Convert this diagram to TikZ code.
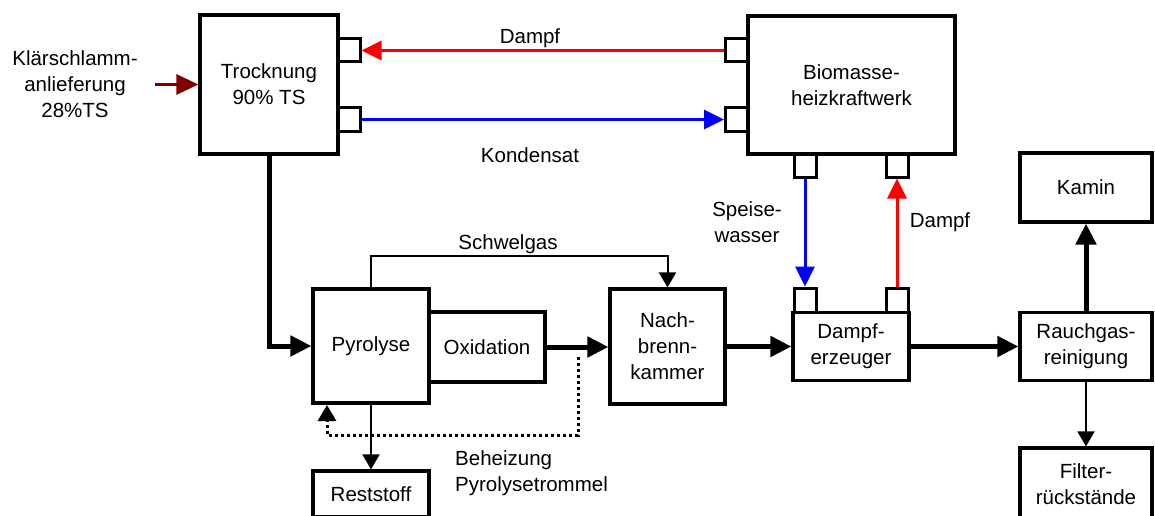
\documentclass[tikz,border=0pt]{standalone}
\usepackage{fontspec}
\setmainfont{Liberation Sans}
\usetikzlibrary{arrows.meta}
\begin{document}
\begin{tikzpicture}[x=1pt,y=-1pt,
  box/.style={draw,line width=3.2pt,rectangle,inner sep=0pt,align=center,font=\fontsize{20.5}{26}\selectfont},
  portbox/.style={draw,line width=3pt,rectangle,minimum width=22pt,minimum height=23pt,inner sep=0pt},
  lbl/.style={align=center,font=\fontsize{20.5}{26}\selectfont,inner sep=0pt},
  mainflow/.style={line width=5pt,-{Triangle[length=21pt,width=20pt]}},
  thinflow/.style={line width=2pt,-{Triangle[length=15pt,width=17pt]}},
  redflow/.style={line width=3pt,red,-{Triangle[length=20pt,width=19pt]}},
  blueflow/.style={line width=3pt,blue,-{Triangle[length=20pt,width=19pt]}},
  inflow/.style={line width=3pt,color={rgb,255:red,128;green,0;blue,0},-{Triangle[length=22pt,width=20pt]}},
  heatflow/.style={line width=3pt,dash pattern=on 3pt off 3pt,-{Triangle[length=16pt,width=18pt]}}
]
\useasboundingbox (0,0) rectangle (1155,516);

% boxes
\node[box,minimum width=138pt,minimum height=139pt] (troc) at (269,84.5) {Trocknung\\90\% TS};
\node[box,minimum width=207pt,minimum height=138pt] (bio) at (851.5,85) {Biomasse-\\heizkraftwerk};
\node[box,minimum width=116pt,minimum height=114pt] (pyr) at (371,346) {Pyrolyse};
\node[box,minimum width=116pt,minimum height=70pt] (oxi) at (487,347) {Oxidation};
\node[box,minimum width=115pt,minimum height=115pt] (nbk) at (667.5,346.5) {Nach-\\brenn-\\kammer};
\node[box,minimum width=116pt,minimum height=68pt] (dam) at (851,346.5) {Dampf-\\erzeuger};
\node[box,minimum width=132pt,minimum height=68pt] (rau) at (1086,346.5) {Rauchgas-\\reinigung};
\node[box,minimum width=132pt,minimum height=69pt] (kam) at (1086,187.5) {Kamin};
\node[box,minimum width=132pt,minimum height=72pt] (fil) at (1086,484) {Filter-\\rückstände};
\node[box,minimum width=116pt,minimum height=46pt] (res) at (371,494) {Reststoff};

% ports
\node[portbox] (tp1) at (349,50.5) {};
\node[portbox] (tp2) at (349,119.5) {};
\node[portbox] (bp1) at (736.5,50.5) {};
\node[portbox] (bp2) at (736.5,119.5) {};
\node[portbox] (bp3) at (805,165.5) {};
\node[portbox] (bp4) at (897,165.5) {};
\node[portbox,minimum height=24pt] (dp1) at (805,300) {};
\node[portbox,minimum height=24pt] (dp2) at (897,300) {};

% labels
\node[lbl] (lklae) at (75,84) {Klärschlamm-\\anlieferung\\28\%TS};
\node[lbl] (ldampf1) at (530,38) {Dampf};
\node[lbl] (lkond) at (530,155) {Kondensat};
\node[lbl] (lschw) at (508,244) {Schwelgas};
\node[lbl] (lspeise) at (747,222) {Speise-\\wasser};
\node[lbl] (ldampf2) at (940,222) {Dampf};
\node[lbl,align=left,anchor=west] (lbeh) at (455,473) {Beheizung\\Pyrolysetrommel};

% connectors
\coordinate (inl) at (155,84.5);
\draw[inflow] (inl) -- (troc.west);
\draw[redflow] (bp1.west) -- (tp1.east);
\draw[blueflow] (tp2.east) -- (bp2.west);
\draw[blueflow] (bp3.south) -- (dp1.north);
\draw[redflow] (dp2.north) -- (bp4.south);

\draw[mainflow] (troc.south) |- (pyr.west);
\draw[mainflow] (oxi.east) -- (oxi.east -| nbk.west);
\draw[mainflow] (nbk.east) -- (dam.west);
\draw[mainflow] (dam.east) -- (rau.west);
\draw[mainflow] (rau.north) -- (kam.south);
\draw[thinflow] (rau.south) -- (fil.north);
\draw[thinflow] (pyr.south) -- (res.north);
\draw[thinflow] (pyr.north) -- ++(0,-31) -| (nbk.north);

\coordinate (hs) at (578,357);
\coordinate (hb) at (327,405);
\draw[heatflow] (hs) -- (578,435) -- (327,435) -- (hb);
\end{tikzpicture}
\end{document}
